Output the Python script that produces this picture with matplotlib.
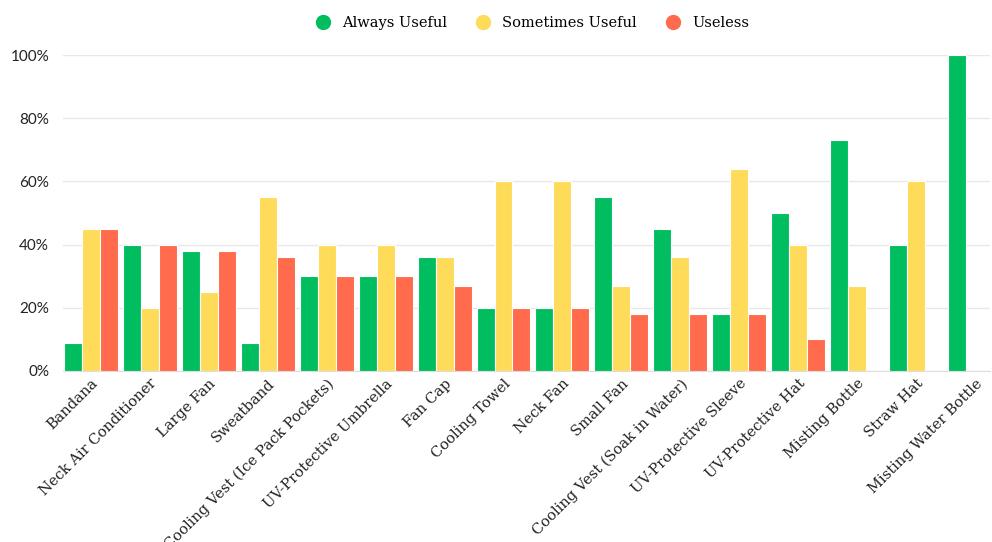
import numpy as np
import matplotlib
matplotlib.use('Agg')
import matplotlib.pyplot as plt
from matplotlib.lines import Line2D
from matplotlib.ticker import FuncFormatter

items = ['Bandana', 'Neck Air Conditioner', 'Large Fan', 'Sweatband',
         'Cooling Vest (Ice Pack Pockets)', 'UV-Protective Umbrella', 'Fan Cap',
         'Cooling Towel', 'Neck Fan', 'Small Fan', 'Cooling Vest (Soak in Water)',
         'UV-Protective Sleeve', 'UV-Protective Hat', 'Misting Bottle', 'Straw Hat',
         'Misting Water Bottle']
always = [9, 40, 38, 9, 30, 30, 36, 20, 20, 55, 45, 18, 50, 73, 40, 100]
sometimes = [45, 20, 25, 55, 40, 40, 36, 60, 60, 27, 36, 64, 40, 27, 60, 0]
useless = [45, 40, 38, 36, 30, 30, 27, 20, 20, 18, 18, 18, 10, 0, 0, 0]
series_names = ['Always Useful', 'Sometimes Useful', 'Useless']
colors = ['#00BE5F', '#FFDB5A', '#FF6B4C']

fig = plt.figure(figsize=(9.92, 5.42), dpi=100)
ax = fig.add_axes([0.0635, 0.3155, 0.9345, 0.583])

x = np.arange(len(items))
w = 0.305
for k, vals in enumerate([always, sometimes, useless]):
    ax.bar(x + (k - 1) * w, vals, width=w, color=colors[k],
           edgecolor='white', linewidth=0.8, zorder=3)

ax.set_ylim(0, 100)
ax.set_xlim(-0.47, 15.25)
ax.set_yticks([0, 20, 40, 60, 80, 100])
ax.yaxis.set_major_formatter(FuncFormatter(lambda v, p: f'{int(v)}%'))
ax.grid(axis='y', color='#e8e8e8', linewidth=1, zorder=0)
for s in ['top', 'right', 'left']:
    ax.spines[s].set_visible(False)
ax.spines['bottom'].set_color('#dddddd')
ax.tick_params(axis='y', length=0, pad=10, labelsize=11, labelcolor='#222222')
ax.tick_params(axis='x', length=0, pad=4)
for t in ax.get_yticklabels():
    t.set_fontfamily('Lato')

ax.set_xticks(x)
ax.set_xticklabels(items, rotation=45, ha='right', rotation_mode='anchor',
                   fontsize=10.5, fontfamily='DejaVu Serif', color='#222222')

handles = [Line2D([0], [0], marker='o', linestyle='none', markersize=10,
                  markerfacecolor=c, markeredgecolor=c) for c in colors]
fig.legend(handles, series_names, loc='center', bbox_to_anchor=(0.533, 0.958),
           ncol=3, frameon=False, handletextpad=0.3, columnspacing=1.5,
           prop={'family': 'DejaVu Serif', 'size': 10.5})

fig.savefig('out.png', dpi=100, facecolor='white')
